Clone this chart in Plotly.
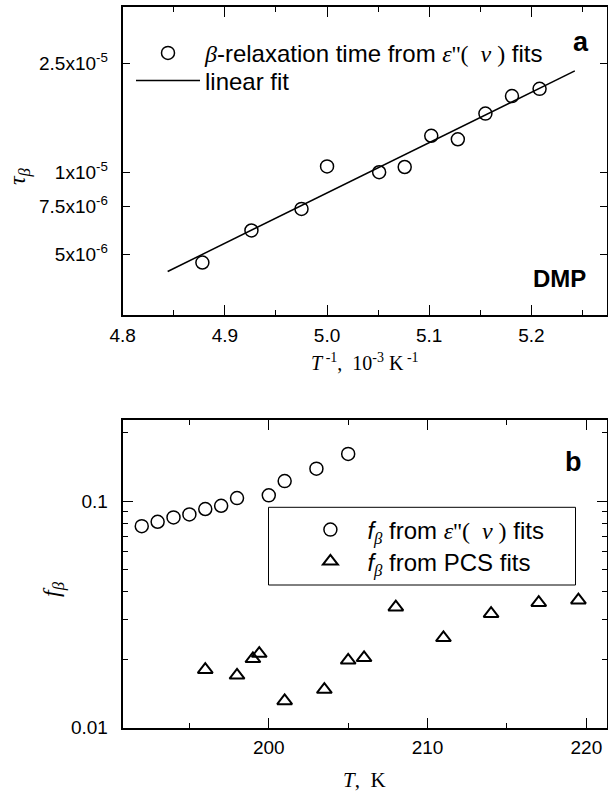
import plotly.graph_objects as go

# ---------------- data: panel a ----------------
inv_T = [4.878, 4.926, 4.975, 5.000, 5.051, 5.076, 5.102, 5.128, 5.155, 5.181, 5.208]
tau_beta = [4.67e-6, 6.12e-6, 7.34e-6, 1.05e-5, 1.00e-5, 1.045e-5, 1.36e-5, 1.32e-5, 1.64e-5, 1.90e-5, 2.02e-5]
fit_inv_T = [4.844, 5.2425]
fit_tau = [4.33e-6, 2.35e-5]
a_ytickvals = [5e-6, 7.5e-6, 1e-5, 2.5e-5]
a_yticktext = ["5x10<sup>-6</sup>", "7.5x10<sup>-6</sup>", "1x10<sup>-5</sup>", "2.5x10<sup>-5</sup>"]

# ---------------- data: panel b ----------------
T_eps = [192, 193, 194, 195, 196, 197, 198, 200, 201, 203, 205]
f_eps = [0.0775, 0.081, 0.0847, 0.0873, 0.0922, 0.0953, 0.1031, 0.106, 0.1225, 0.139, 0.1615]
T_pcs = [196, 198, 199, 199.4, 201, 203.5, 205, 206, 208, 211, 214, 217, 219.5]
f_pcs = [0.0180, 0.0170, 0.0201, 0.0212, 0.0131, 0.0147, 0.0198, 0.0203, 0.0340, 0.0249, 0.0318, 0.0356, 0.0365]
b_ytickvals = [0.01, 0.1]
b_yticktext = ["0.01", "0.1"]
b_yminor = [0.02, 0.03, 0.04, 0.05, 0.06, 0.07, 0.08, 0.09, 0.2]

W, H = 608, 794
SANS = "Liberation Sans, Arial, sans-serif"
SERIF = "Liberation Serif, Times New Roman, serif"
G = lambda s: f'<span style="font-family:Liberation Serif">{s}</span>'

fig = go.Figure()
fig.add_trace(go.Scatter(
    x=inv_T, y=tau_beta, mode="markers", xaxis="x", yaxis="y",
    marker=dict(symbol="circle-open", size=13, color="black", line=dict(width=1.5, color="black")),
    name=G("<i>β</i>") + "-relaxation time from " + G("<i>ε</i>''(&nbsp;&nbsp;<i>ν</i>&nbsp;)") + " fits",
    legend="legend", showlegend=True))
fig.add_trace(go.Scatter(
    x=fit_inv_T, y=fit_tau, mode="lines", xaxis="x", yaxis="y",
    line=dict(color="black", width=1.5), name="linear fit", legend="legend2", showlegend=True))
fig.add_trace(go.Scatter(
    x=T_eps, y=f_eps, mode="markers", xaxis="x2", yaxis="y2",
    marker=dict(symbol="circle-open", size=13, color="black", line=dict(width=1.5, color="black")),
    name="<i>f</i><sub>" + G("<i>β</i>") + "</sub> from " + G("<i>ε</i>''(&nbsp;&nbsp;<i>ν</i>&nbsp;)") + " fits",
    legend="legend3", showlegend=True))
fig.add_trace(go.Scatter(
    x=T_pcs, y=f_pcs, mode="markers", xaxis="x2", yaxis="y2",
    marker=dict(symbol="triangle-up-open", size=13, color="black", line=dict(width=2, color="black")),
    name="<i>f</i><sub>" + G("<i>β</i>") + "</sub> from PCS fits",
    legend="legend4", showlegend=True))

axcommon = dict(showline=True, linecolor="black", linewidth=2, mirror="allticks",
                ticks="inside", tickcolor="black", tickwidth=1, showgrid=False, zeroline=False,
                automargin=False,
                tickfont=dict(family=SANS, size=19, color="black"))

xdom = [122.7 / W, 607 / W]
fig.update_layout(
    width=W, height=H, margin=dict(l=0, r=0, t=0, b=0, autoexpand=False),
    paper_bgcolor="white", plot_bgcolor="white", showlegend=True,
    xaxis=dict(domain=xdom, anchor="y", range=[4.8, 5.274], tickmode="array",
               tickvals=[4.8, 4.9, 5.0, 5.1, 5.2], ticktext=["4.8", "4.9", "5.0", "5.1", "5.2"],
               ticklen=10, ticklabelstandoff=2,
               minor=dict(tickvals=[4.85, 4.95, 5.05, 5.15, 5.25], ticks="inside", ticklen=5,
                          tickcolor="black", tickwidth=1),
               **axcommon),
    yaxis=dict(domain=[1 - 315 / H, 1 - 7.3 / H], anchor="x", type="log",
               range=[-5.5229, -4.396], tickmode="array", tickvals=a_ytickvals, ticktext=a_yticktext,
               ticklen=7, ticklabelstandoff=9, **axcommon),
    xaxis2=dict(domain=xdom, anchor="y2", range=[190.8, 221.3], tickmode="array",
                tickvals=[200, 210, 220], ticklen=10, ticklabelstandoff=2,
                minor=dict(tickvals=[195, 205, 215], ticks="inside", ticklen=5,
                           tickcolor="black", tickwidth=1),
                **axcommon),
    yaxis2=dict(domain=[1 - 727.5 / H, 1 - 420 / H], anchor="x2", type="log",
                range=[-2, -0.642], tickmode="array", tickvals=b_ytickvals, ticktext=b_yticktext,
                ticklen=10, ticklabelstandoff=9,
                minor=dict(tickvals=b_yminor, ticks="inside", ticklen=5, tickcolor="black", tickwidth=1),
                **axcommon),
)

legcommon = dict(font=dict(family=SANS, size=24, color="black"), bgcolor="rgba(0,0,0,0)",
                 borderwidth=0, itemwidth=64, xanchor="left", yanchor="middle", visible=True)
fig.update_layout(
    legend=dict(x=131 / W, y=1 - 53.3 / H, **legcommon),
    legend2=dict(x=131 / W, y=1 - 81 / H, **legcommon),
    legend3=dict(x=293.4 / W, y=1 - 530 / H, **legcommon),
    legend4=dict(x=293.4 / W, y=1 - 561.7 / H, **legcommon),
)

# legend frame of panel b
fig.add_shape(type="rect", xref="paper", yref="paper",
              x0=268.5 / W, x1=575.5 / W, y0=1 - 585 / H, y1=1 - 507.3 / H,
              line=dict(color="black", width=1), fillcolor="rgba(0,0,0,0)")

def ann(text, x, y, font, size, bold=False, angle=0):
    fig.add_annotation(text=(f"<b>{text}</b>" if bold else text), xref="paper", yref="paper",
                       x=x / W, y=1 - y / H, xanchor="center", yanchor="middle",
                       showarrow=False, textangle=angle,
                       font=dict(family=font, size=size, color="black"))

ann("a", 581, 41.8, SANS, 27, bold=True)
ann("DMP", 559, 278, SANS, 24, bold=True)
ann("b", 573, 462, SANS, 27, bold=True)
ann("<i>T</i><sup>&nbsp;-1</sup>,&nbsp;&nbsp;10<sup>-3</sup>&nbsp;K<sup>&nbsp;-1</sup>", 364.8, 362, SERIF, 20)
ann("<i>T</i>,&nbsp;&nbsp;K", 364.8, 780, SERIF, 21)
ann("<i>τ</i><sub><i>β</i></sub>", 19, 176, SERIF, 24, angle=-90)
ann("<i>f</i><sub><i>β</i></sub>", 53, 589, SERIF, 24, angle=-90)

fig.write_html("out.html",
               config={"displayModeBar": False},
               post_script="document.body.style.margin='0px';document.body.style.padding='0px';"
                           "document.documentElement.style.overflow='hidden';")
